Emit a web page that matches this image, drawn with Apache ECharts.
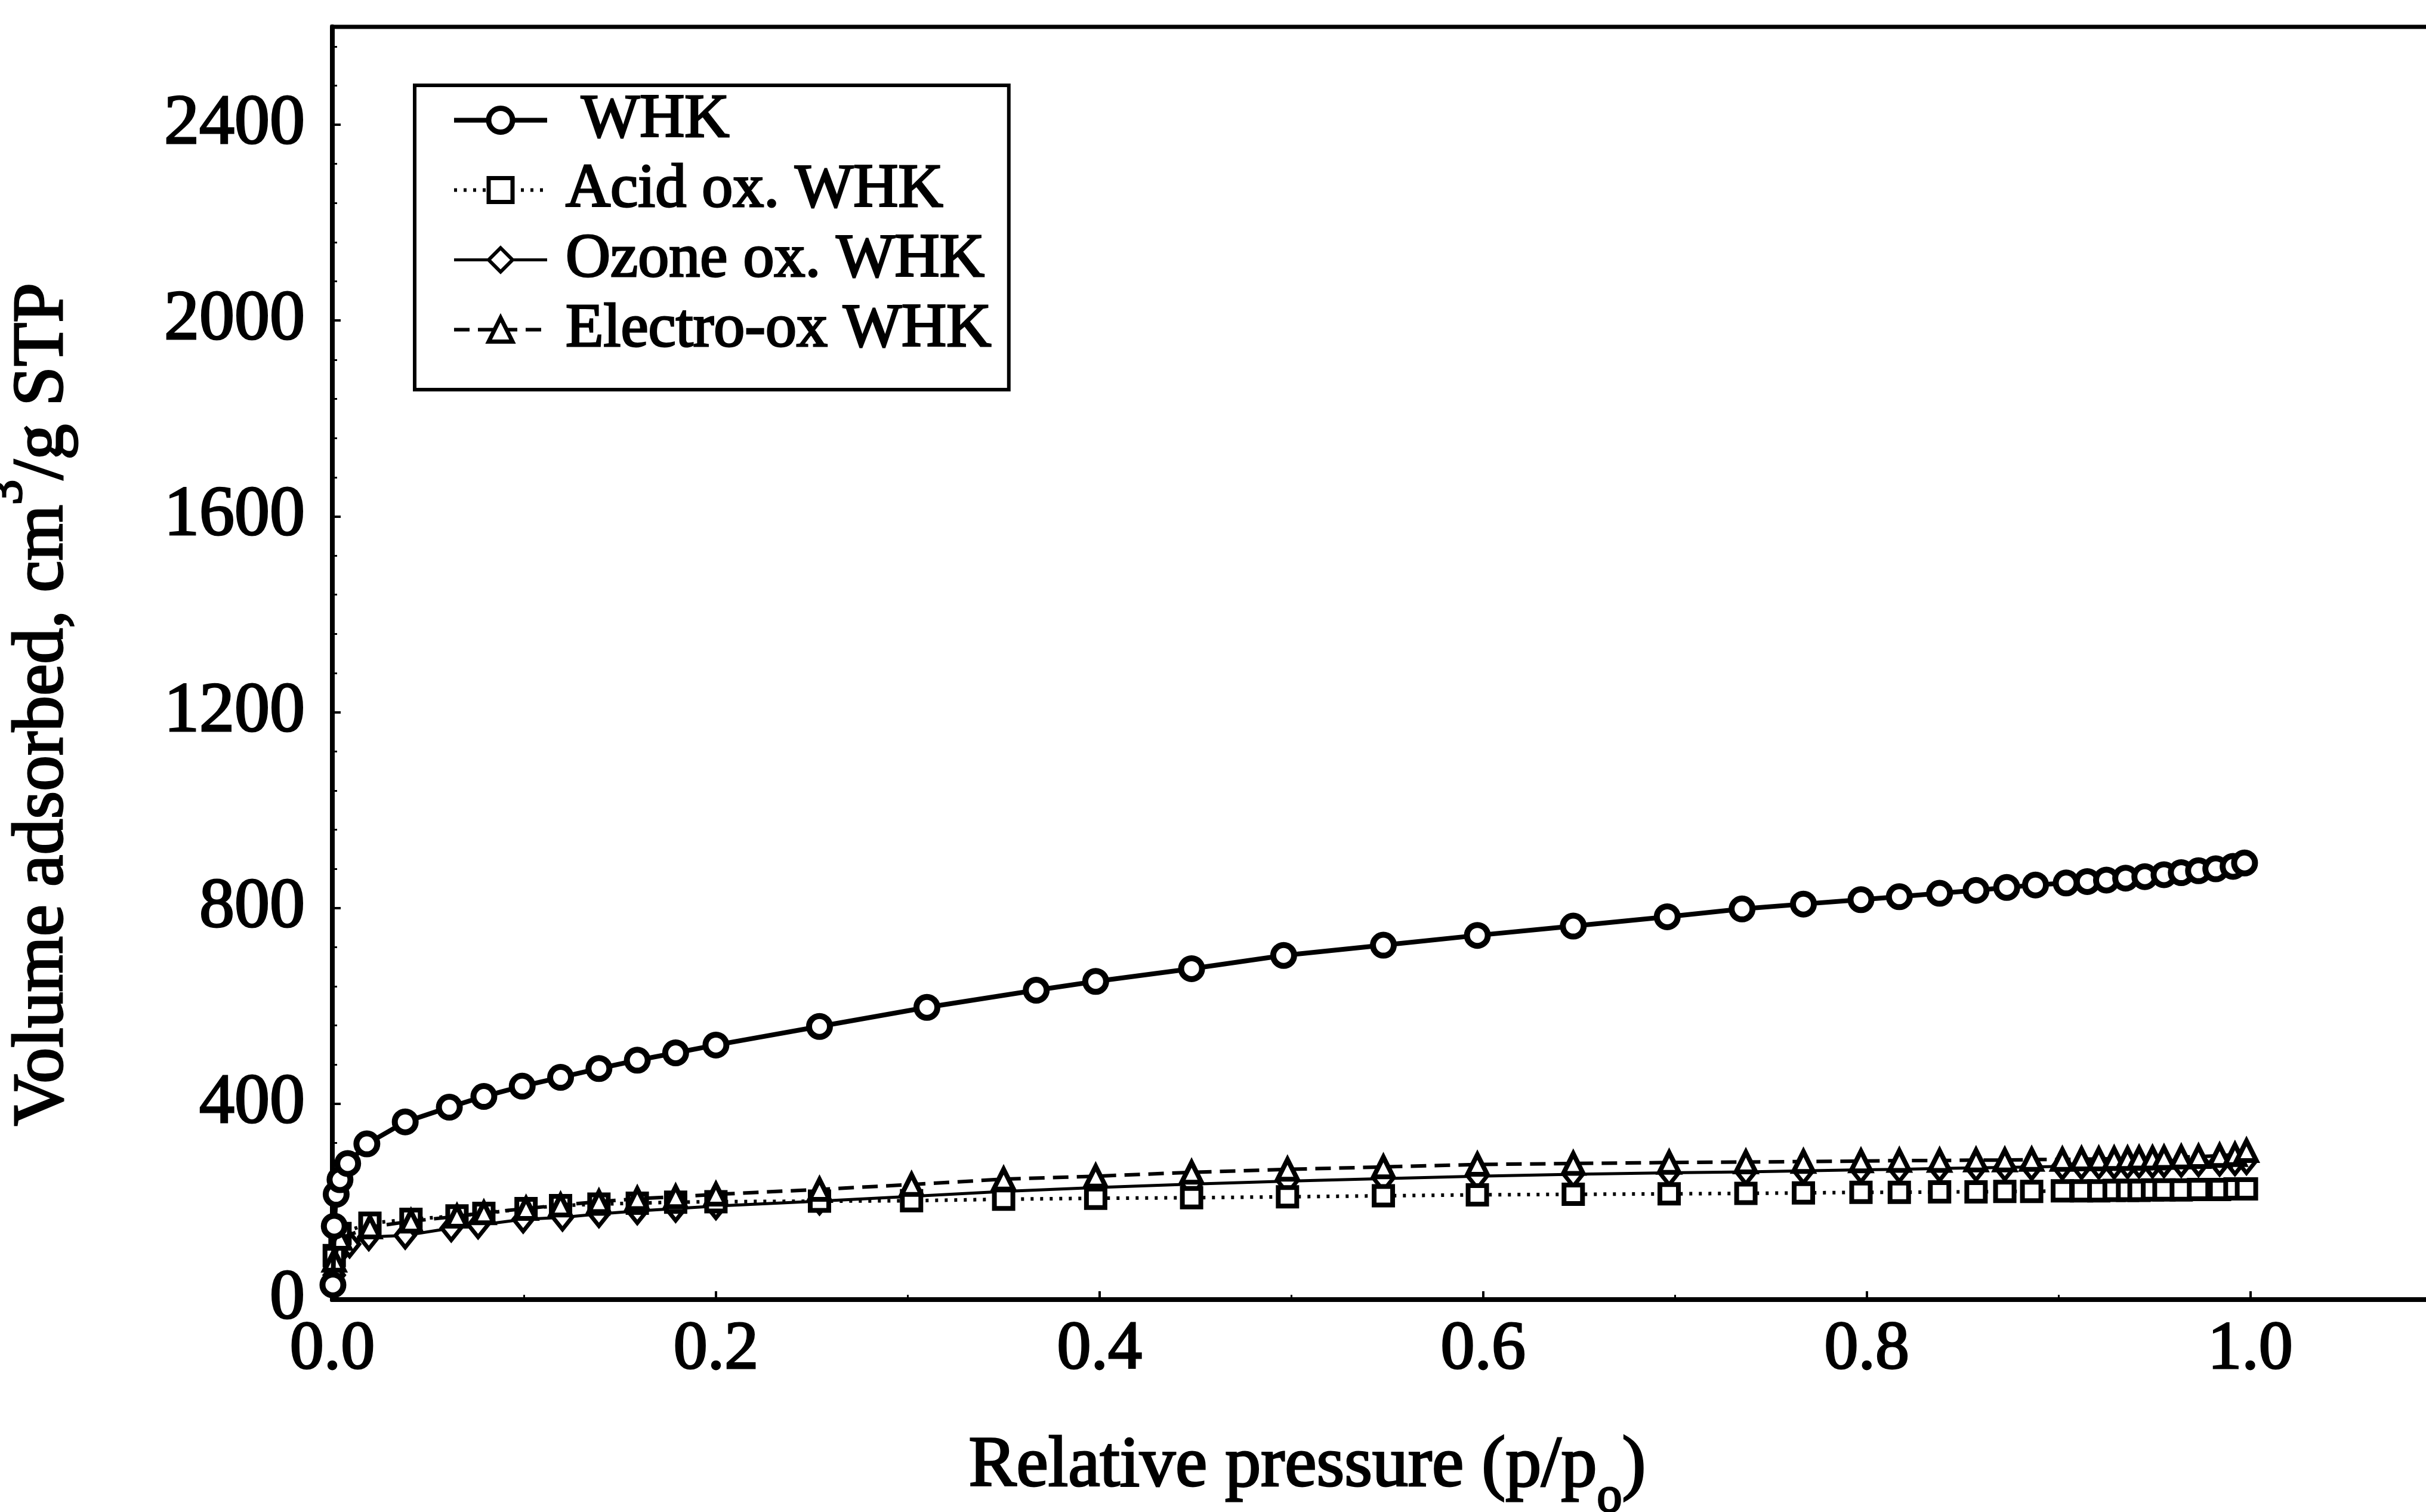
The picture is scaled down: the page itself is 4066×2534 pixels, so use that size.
<!DOCTYPE html>
<html>
<head>
<meta charset="utf-8">
<title>Nitrogen adsorption isotherms of WHK samples</title>
<script src="https://cdn.jsdelivr.net/npm/echarts@6/dist/echarts.min.js"></script>
<style>
  html, body { margin: 0; padding: 0; background: #fff; }
  #chart { width: 4066px; height: 2534px; }
</style>
</head>
<body>
<div id="chart"></div>
<script>
// Relative pressure (p/po) and adsorbed volume (cm3/g STP) for each sample
const whkP = [0.0003, 0.001, 0.002, 0.004, 0.008, 0.018, 0.038, 0.061, 0.079, 0.099, 0.119, 0.139, 0.159, 0.179, 0.200, 0.254, 0.310, 0.367, 0.398, 0.448, 0.496, 0.548, 0.597, 0.647, 0.696, 0.735, 0.767, 0.797, 0.817, 0.838, 0.857, 0.873, 0.888, 0.904, 0.915, 0.925, 0.935, 0.945, 0.955, 0.964, 0.973, 0.982, 0.991, 0.997];
const whkV = [30, 150, 215, 245, 278, 318, 363, 393, 415, 436, 454, 472, 489, 504, 520, 558, 597, 632, 650, 676, 703, 724, 744, 763, 782, 798, 808, 817, 823, 830, 836, 842, 847, 851, 854, 857, 861, 864, 868, 872, 876, 880, 885, 892];

const acidP = [0.001, 0.004, 0.0196, 0.041, 0.065, 0.079, 0.101, 0.119, 0.139, 0.159, 0.179, 0.200, 0.254, 0.302, 0.350, 0.398, 0.448, 0.498, 0.548, 0.597, 0.647, 0.697, 0.737, 0.767, 0.797, 0.817, 0.838, 0.857, 0.872, 0.886, 0.902, 0.912, 0.921, 0.929, 0.936, 0.942, 0.949, 0.955, 0.964, 0.973, 0.984, 0.992, 0.998];
const acidV = [90, 135, 156, 164, 171, 176, 186, 192, 195, 197, 199, 200, 201, 202, 205, 207, 208, 210, 212, 214, 215, 216, 217, 218, 219, 219, 220, 220, 221, 221, 222, 222, 222, 223, 223, 223, 224, 224, 224, 225, 225, 226, 226];

const ozoneP = [0.001, 0.004, 0.009, 0.019, 0.038, 0.062, 0.076, 0.0995, 0.120, 0.139, 0.159, 0.179, 0.200, 0.254, 0.302, 0.350, 0.398, 0.448, 0.498, 0.548, 0.597, 0.647, 0.697, 0.737, 0.767, 0.797, 0.817, 0.838, 0.857, 0.872, 0.886, 0.902, 0.912, 0.921, 0.929, 0.936, 0.942, 0.949, 0.955, 0.964, 0.973, 0.984, 0.992, 0.998];
const ozoneV = [50, 99, 113, 128, 131, 146, 152, 164, 168, 175, 181, 186, 191, 201, 211, 221, 229, 236, 242, 247, 252, 256, 259, 261, 263, 265, 266, 268, 269, 270, 271, 272, 273, 274, 274, 275, 276, 276, 277, 278, 279, 280, 281, 283];

const electroP = [0.001, 0.004, 0.0196, 0.041, 0.065, 0.079, 0.101, 0.119, 0.139, 0.159, 0.179, 0.200, 0.254, 0.302, 0.350, 0.398, 0.448, 0.498, 0.548, 0.597, 0.647, 0.697, 0.737, 0.767, 0.797, 0.817, 0.838, 0.857, 0.872, 0.886, 0.902, 0.912, 0.921, 0.929, 0.936, 0.942, 0.949, 0.955, 0.964, 0.973, 0.984, 0.992, 0.998];
const electroV = [80, 125, 148, 160, 170, 177, 186, 193, 200, 206, 210, 215, 225, 235, 246, 252, 260, 266, 271, 276, 278, 280, 281, 282, 283, 284, 284, 285, 285, 286, 286, 287, 287, 288, 288, 289, 289, 290, 291, 292, 294, 296, 304];

const seriesNames = ['WHK', 'Acid ox. WHK', 'Ozone ox. WHK', 'Electro-ox WHK'];
const xTickLabels = ['0.0', '0.2', '0.4', '0.6', '0.8', '1.0'];
const yTickLabels = ['0', '400', '800', '1200', '1600', '2000', '2400'];

const FONT = '"Liberation Serif", "DejaVu Serif", serif';
const INK = '#000';
const PAPER = '#fff';
// a thin outline on the glyphs gives the heavy printed look of the lettering
const INK_EDGE = { textBorderColor: INK, textBorderWidth: 3 };

// per-series drawing style: marker, marker rim, line dash, line width
const looks = [
  { symbol: 'circle',   size: 35,       rim: 10, dash: 'solid',  width: 8 },
  { symbol: 'rect',     size: 31,       rim: 8,  dash: [5, 11],  width: 6 },
  { symbol: 'diamond',  size: [32, 40], rim: 7,  dash: 'solid',  width: 5 },
  { symbol: 'triangle', size: 33,       rim: 8,  dash: [26, 14], width: 6 }
];

function pairs(xs, ys) {
  return xs.map((x, i) => [x, ys[i]]);
}

// open markers: white body with a heavy black rim, drawn over the connecting line
function lineSeries(i, xs, ys, z) {
  const lk = looks[i];
  return {
    name: seriesNames[i],
    type: 'line',
    data: pairs(xs, ys),
    symbol: lk.symbol,
    symbolSize: lk.size,
    showAllSymbol: true,
    z: z,
    itemStyle: { color: PAPER, borderColor: INK, borderWidth: lk.rim, opacity: 1 },
    lineStyle: { color: INK, width: lk.width, type: lk.dash },
    emphasis: { disabled: true },
    animation: false
  };
}

const legendItems = seriesNames.map((name, i) => ({
  name: name,
  itemStyle: { color: PAPER, borderColor: INK, borderWidth: looks[i].rim - 1 },
  lineStyle: { color: INK, width: looks[i].width, type: looks[i].dash }
}));

const chart = echarts.init(document.getElementById('chart'), null, { renderer: 'canvas' });

chart.setOption({
  backgroundColor: PAPER,
  animation: false,
  grid: {
    left: 557, top: 45, right: -27, bottom: 356,
    outerBoundsMode: 'none',
    containLabel: false,
    show: true, borderColor: INK, borderWidth: 7, backgroundColor: 'transparent'
  },
  legend: {
    orient: 'vertical',
    left: 695, top: 143,
    padding: [0, 28, 42, 62],
    itemGap: 0,
    itemWidth: 156,
    itemHeight: 50,
    backgroundColor: PAPER,
    borderColor: INK,
    borderWidth: 6,
    borderRadius: 0,
    data: legendItems,
    formatter: function (name) { return name === 'WHK' ? '  ' + name : ' ' + name; },
    textStyle: Object.assign({ fontFamily: FONT, fontSize: 104, color: INK, lineHeight: 117 }, INK_EDGE)
  },
  xAxis: {
    type: 'value',
    min: 0, max: 1.1, interval: 0.2,
    name: 'Relative pressure (p/p{sub|o})',
    nameLocation: 'middle',
    nameGap: 185,
    nameTextStyle: Object.assign({
      fontFamily: FONT, fontSize: 120, color: INK,
      padding: [0, 268, 0, 0],
      rich: {
        sub: Object.assign({ fontFamily: FONT, fontSize: 84, color: INK, verticalAlign: 'bottom', lineHeight: 190 }, INK_EDGE)
      }
    }, INK_EDGE),
    axisLine: { onZero: false, lineStyle: { color: INK, width: 8 } },
    axisTick: { inside: true, length: 14, lineStyle: { color: INK, width: 4 } },
    minorTick: { show: true, splitNumber: 2, length: 8, lineStyle: { color: INK, width: 3 } },
    splitLine: { show: false },
    axisLabel: Object.assign({
      fontFamily: FONT, fontSize: 114, color: INK, margin: 28,
      showMaxLabel: false,
      formatter: function (v) { return xTickLabels[Math.round(v / 0.2)] || ''; }
    }, INK_EDGE)
  },
  yAxis: {
    type: 'value',
    min: 0, max: 2600, interval: 400,
    name: 'Volume adsorbed, cm{sup|3}/g STP',
    nameLocation: 'middle',
    nameGap: 385,
    nameTextStyle: Object.assign({
      fontFamily: FONT, fontSize: 120, color: INK,
      padding: [0, 138, 0, 0],
      rich: {
        sup: Object.assign({ fontFamily: FONT, fontSize: 84, color: INK, verticalAlign: 'top', lineHeight: 200 }, INK_EDGE)
      }
    }, INK_EDGE),
    axisLine: { onZero: false, lineStyle: { color: INK, width: 8 } },
    axisTick: { inside: true, length: 14, lineStyle: { color: INK, width: 4 } },
    minorTick: { show: true, splitNumber: 5, length: 8, lineStyle: { color: INK, width: 3 } },
    splitLine: { show: false },
    axisLabel: Object.assign({
      fontFamily: FONT, fontSize: 118, color: INK, margin: 46,
      showMaxLabel: false,
      formatter: function (v) { return yTickLabels[Math.round(v / 400)] || ''; }
    }, INK_EDGE)
  },
  series: [
    lineSeries(0, whkP, whkV, 5),
    lineSeries(1, acidP, acidV, 3),
    lineSeries(2, ozoneP, ozoneV, 2),
    lineSeries(3, electroP, electroV, 4)
  ]
});
</script>
</body>
</html>
